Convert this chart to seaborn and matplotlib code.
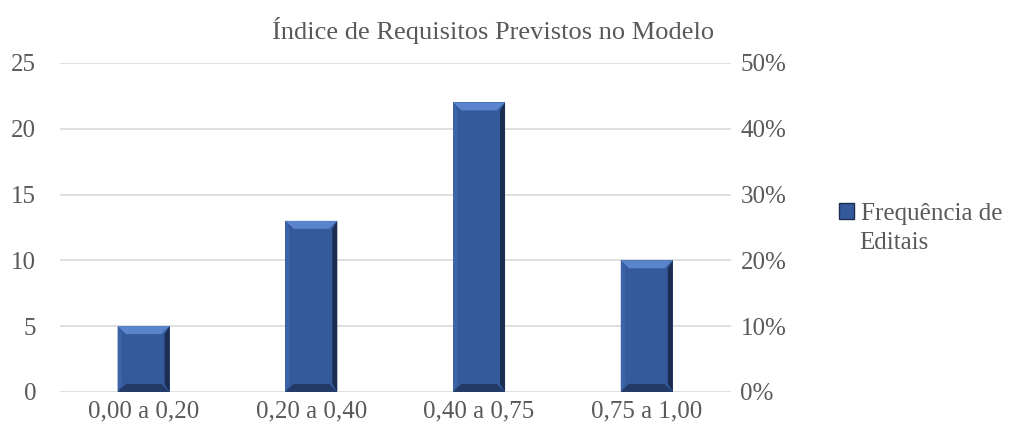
import matplotlib
matplotlib.use("Agg")
import matplotlib.pyplot as plt
import seaborn as sns
import pandas as pd
from matplotlib.patches import Polygon, Patch

categories = ["0,00 a 0,20", "0,20 a 0,40", "0,40 a 0,75", "0,75 a 1,00"]
frequencia = [5, 13, 22, 10]
left_ticks = [0, 5, 10, 15, 20, 25]
right_ticks = [0, 0.1, 0.2, 0.3, 0.4, 0.5]
right_labels = ["0%", "10%", "20%", "30%", "40%", "50%"]
series_name = ["Frequência de", "Editais"]

sns.set_theme(style="white")
plt.rcParams["font.family"] = ["Liberation Serif", "DejaVu Serif"]
TXT = "#595959"
FS = 18

df = pd.DataFrame({"cat": categories, "freq": frequencia})

fig = plt.figure(figsize=(10.12, 4.34), dpi=100)
ax = fig.add_axes([0.059, 0.097, 0.663, 0.758])
main = "#345a9c"
sns.barplot(data=df, x="cat", y="freq", ax=ax, color=main, width=0.31,
            saturation=1, edgecolor="none", linewidth=0, zorder=3)
ax.set_ylim(0, 25)
ax.set_yticks(left_ticks)
ax.set_xlim(-0.5, 3.5)
ax.grid(axis="y", color="#d9d9d9", linewidth=1.2, zorder=0)
ax.set_axisbelow(True)
for s in ax.spines.values():
    s.set_visible(False)
ax.set_xlabel("")
ax.set_ylabel("")
ax.tick_params(axis="y", length=0, pad=17, labelsize=FS, labelcolor=TXT)
ax.tick_params(axis="x", length=0, pad=6, labelsize=FS, labelcolor=TXT)

# bevel decoration derived from each bar's own geometry
fig.canvas.draw()
to_data = ax.transData
for p in ax.patches:
    x0 = p.get_x(); w = p.get_width(); h = p.get_height()
    x1 = x0 + w
    dx = w * 0.16
    px_per_y = (to_data.transform((0, 1))[1] - to_data.transform((0, 0))[1])
    dy = 8.0 / px_per_y
    top = [(x0, h), (x1, h), (x1 - dx, h - dy), (x0 + dx, h - dy)]
    bot = [(x0, 0), (x1, 0), (x1 - dx, dy), (x0 + dx, dy)]
    lft = [(x0, 0), (x0, h), (x0 + dx * 0.5, h - dy), (x0 + dx * 0.5, dy)]
    rgt = [(x1, 0), (x1, h), (x1 - dx * 0.6, h - dy), (x1 - dx * 0.6, dy)]
    ax.add_patch(Polygon(rgt, closed=True, facecolor="#1c2d52", edgecolor="none", zorder=4))
    ax.add_patch(Polygon(lft, closed=True, facecolor="#3d64a6", edgecolor="none", zorder=4))
    ax.add_patch(Polygon(top, closed=True, facecolor="#5a84cc", edgecolor="none", zorder=5))
    ax.add_patch(Polygon(bot, closed=True, facecolor="#233a66", edgecolor="none", zorder=5))

ax2 = ax.twinx()
ax2.set_ylim(0, 0.5)
ax2.set_yticks(right_ticks)
ax2.set_yticklabels(right_labels)
ax2.tick_params(axis="y", length=0, pad=7, labelsize=FS, labelcolor=TXT)
ax2.grid(False)
for s in ax2.spines.values():
    s.set_visible(False)

fig.text(0.487, 0.93, "Índice de Requisitos Previstos no Modelo",
         ha="center", va="center", fontsize=19, color=TXT)

handle = Patch(facecolor=main, edgecolor="#1c2d52", linewidth=1)
leg = fig.legend([handle], [series_name[0]], loc="center left",
                 bbox_to_anchor=(0.829, 0.508), frameon=False, fontsize=18,
                 handlelength=0.62, handleheight=0.62, handletextpad=0.25,
                 labelcolor=TXT, borderaxespad=0, borderpad=0)
fig.text(0.849, 0.44, series_name[1], ha="left", va="center",
         fontsize=18, color=TXT)

fig.savefig("out.png", dpi=100)
